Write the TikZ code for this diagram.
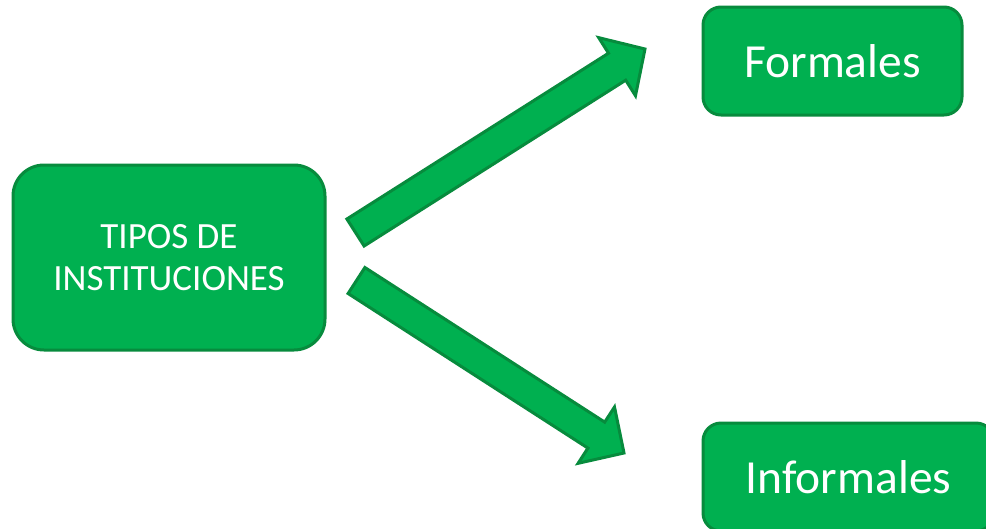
\documentclass[tikz,border=0pt]{standalone}
\usepackage{fontspec}
\setmainfont{Carlito}
\definecolor{boxfill}{HTML}{00B050}
\definecolor{boxline}{HTML}{078B3D}
\begin{document}
\begin{tikzpicture}[x=1pt,y=-1pt,
  gbox/.style={draw=boxline,fill=boxfill,line width=3pt,text=white,inner sep=0pt,align=center},
  garrow/.style={draw=boxline,fill=boxfill,line width=3pt,line join=miter}]
\useasboundingbox (0,0) rectangle (986,528);
\clip (0,0) rectangle (986,528);
\node[gbox,rounded corners=31pt,minimum width=312pt,minimum height=185pt,
  font=\fontsize{37}{42}\selectfont] (tipos) at (169,257.5) {TIPOS DE\\INSTITUCIONES};
\node[gbox,rounded corners=18pt,minimum width=259pt,minimum height=108pt,
  font=\fontsize{47.5}{55}\selectfont] (formales) at (832.5,61) {Formales};
\node[gbox,rounded corners=18pt,minimum width=291pt,minimum height=108pt,
  font=\fontsize{47.5}{55}\selectfont] (informales) at (848.5,477) {Informales};
% upper block arrow
\draw[garrow] (346.9,219.0) -- (608.5,53.2) -- (598.7,37.65) -- (645,49)
  -- (635.5,95.75) -- (625.7,80.2) -- (364.1,246.0) -- cycle;
% lower block arrow
\draw[garrow] (364.9,267.5) -- (604.7,422.1) -- (614.5,407.0) -- (624,453)
  -- (578.1,463.3) -- (587.9,448.1) -- (348.1,293.5) -- cycle;
\end{tikzpicture}
\end{document}
